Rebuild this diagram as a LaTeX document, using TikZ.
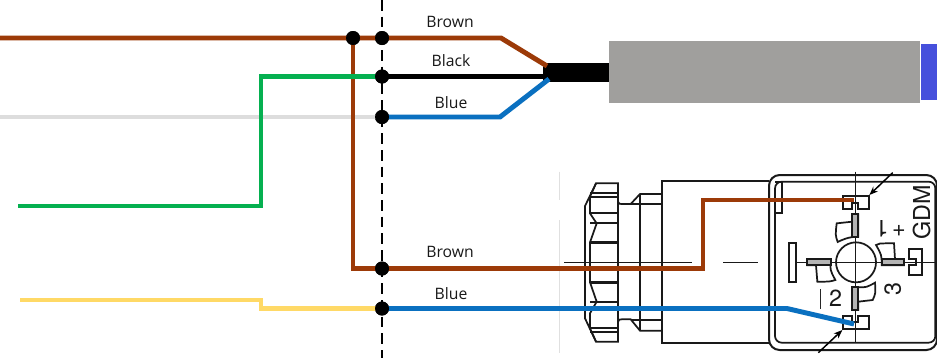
\documentclass[tikz,border=0pt]{standalone}
\usepackage{fontspec}
\setmainfont{Open Sans}
\newfontfamily\drawfont{TeX Gyre Heros}
\usetikzlibrary{arrows.meta}
\definecolor{wbrown}{HTML}{9C3A08}
\definecolor{wblue}{HTML}{0A70C0}
\definecolor{wgreen}{HTML}{05B050}
\definecolor{wgrey}{HTML}{DDDDDD}
\definecolor{wyellow}{HTML}{FFD966}
\definecolor{bodygrey}{HTML}{A09F9D}
\definecolor{capblue}{HTML}{4650DC}
\definecolor{pincol}{HTML}{B4B4B4}
\tikzset{
  wire/.style={line width=3.7pt,line join=miter},
  junction/.style={circle,fill=black,inner sep=0pt,minimum size=10.5pt},
  wirelabel/.style={font=\fontsize{11.8}{12}\selectfont,inner sep=0pt,text=black!90},
  part/.style={line width=1.3pt,draw=black!90,line join=miter},
  thinpart/.style={line width=1pt,draw=black!90},
  pinpart/.style={line width=1.3pt,draw=black!90,fill=pincol},
  marktext/.style={font=\drawfont\fontsize{17.5}{17.5}\selectfont,inner sep=0pt,text=black!90},
  leader/.style={-{Stealth[length=6.5pt,width=5pt]},line width=1.1pt},
}
\begin{document}
\begin{tikzpicture}[x=.75pt,y=-.75pt]
\useasboundingbox[fill=white] (0,0) rectangle (937,358);
% connector drawing, nut and body (coordinates of first crop)
\begin{scope}[shift={(540,160)},x=.25pt,y=-.25pt]
  \draw[part] (168,70)--(234,70)--(234,545)--(168,545)--(135,475)--(135,138)--cycle;
  \draw[part] (168,70)--(150,110)--(150,160)--(170,190)--(150,247)--(150,367)--(170,425)--(150,460)--(150,505)--(168,545);
  \foreach \yy in {100,110,160,188,425,505,515} \draw[part] (150,\yy)--(234,\yy);
  \draw[part,line width=1.9pt] (150,247)--(234,247) (150,367)--(234,367);
  \draw[part] (234,125)..controls (238,132)..(245,132)--(272,132)--(300,102)--(367,102);
  \draw[part] (272,132)--(367,132) (300,102)--(300,512);
  \draw[part] (234,485)..controls (238,478)..(245,478)--(272,478)--(300,512)--(367,512);
  \draw[part] (272,480)--(367,480);
  \draw[part] (660,62)--(367,62)--(367,548)--(660,548);
  \draw[thinpart] (72,307)--(455,307) (550,307)--(653,307);
  \draw[line width=.5pt,black!12] (58,35)--(58,120) (58,180)--(58,578);
\end{scope}
% connector drawing, head (coordinates of second crop)
\begin{scope}[shift={(750,160)},x=.25pt,y=-.25pt]
  \draw[part] (0,62)--(56,62) (0,548)--(56,548);
  \draw[part,line width=1.5pt,rounded corners=8pt] (57,45) rectangle (561,570);
  \draw[part,rounded corners=5pt] (75,65) rectangle (556,548);
  \draw[part] (75,65)--(95,65)--(95,158)--(75,158);
  \draw[thinpart] (316,35)--(316,545) (0,307)--(22,307) (118,307)--(561,307);
  \draw[part,fill=white] (118,248) rectangle (138,365);
  \draw[part] (278,108)--(356,108)--(356,148)--(325,148)--(325,130)--(305,130)--(305,148)--(278,148)--cycle;
  \draw[part] (278,467)--(305,467)--(305,485)--(325,485)--(325,467)--(356,467)--(356,506)--(278,506)--cycle;
  \draw[part] (478,268)--(515,268)--(515,346)--(478,346)--(478,316)--(497,316)--(497,298)--(478,298)--cycle;
  \draw[part] (260,190)--(307,185)--(307,163)--(325,163)--(325,230)..controls (295,230) and (275,240)..(263,246)..controls (256,225)..(260,190)--cycle;
  \draw[pinpart] (307,163) rectangle (325,230);
  \draw[part] (375,368)..controls (350,382)..(325,382)--(307,382)--(307,450)--(325,450)--(325,425)--(368,420)..controls (377,400)..(375,368)--cycle;
  \draw[pinpart] (307,382) rectangle (325,450);
  \draw[part] (378,255)..controls (385,250)..(432,250)--(435,298)--(462,298)--(462,316)--(395,316)..controls (395,285)..(378,255)--cycle;
  \draw[pinpart] (395,298) rectangle (462,316);
  \draw[part] (172,298)--(242,298)..controls (240,330)..(256,360)..controls (240,365)..(202,365)--(198,316)--(172,316)--cycle;
  \draw[pinpart] (172,298) rectangle (242,316);
  \node[part,draw,circle,inner sep=0pt,minimum size=30pt] (hub) at (318,307) {};
  \draw[thinpart] (316,247)--(316,367) (258,307)--(378,307);
  \draw[line width=1.2pt,black!85] (211,387)--(211,447);
  \node[marktext] (two) at (257,416) {2};
  \node[marktext,rotate=90] (three) at (428,386) {3};
  \node[marktext,rotate=180] (one) at (396,206) {1};
  \node[marktext] (plus) at (447,212) {+};
  \node[marktext,rotate=90] (gdm) at (515,156) {GDM};
  \coordinate (a1) at (428,38); \coordinate (a2) at (358,105);
  \coordinate (b1) at (205,578); \coordinate (b2) at (277,510);
  \draw[leader] (a1)--(a2);
  \draw[leader] (b1)--(b2);
\end{scope}
% sensor body
\node[fill=bodygrey,minimum width=233.25pt,minimum height=46.5pt,inner sep=0pt,anchor=north west] (sensor) at (609,41) {};
\node[fill=capblue,minimum width=12.75pt,minimum height=42pt,inner sep=0pt,anchor=west] (cap) at (sensor.east) {};
\node[fill=black,minimum width=49.5pt,minimum height=14.5pt,inner sep=0pt,anchor=east] (cable) at (sensor.west) {};
% junctions
\coordinate (dashtop) at (382,0); \coordinate (dashbot) at (382,358);
\draw[line width=1.5pt,dash pattern=on 8pt off 4.5pt] (dashtop)--(dashbot);
\coordinate (brownL) at (0,38); \coordinate (greyL) at (0,117);
\coordinate (greenL) at (18,206); \coordinate (yellowL) at (20,300);
\node[junction] (jb) at (353,38) {};
\node[junction] (j1) at (382,38) {};
\node[junction] (j2) at (382,76.5) {};
\node[junction] (j3) at (382,117) {};
\node[junction] (j4) at (382,268.5) {};
\node[junction] (j5) at (382,308.5) {};
\coordinate (cb) at (547,66); \coordinate (cbl) at (549,79); \coordinate (ck) at (546,76.5);
\coordinate (pin1) at (854,200); \coordinate (pin2) at (854,324);
\draw[wire,wgrey] (greyL)--(j3.center);
\draw[wire,wbrown] (jb.center)|-(j4.center);
\draw[wire,wbrown] (brownL)--(j1.center)--(501,38)--(cb);
\draw[wire,wgreen] (greenL)-|(261,76.5)--(j2.center);
\draw[wire,black] (j2.center)--(ck);
\draw[wire,wblue] (j3.center)--(500,117)--(cbl);
\draw[wire,wyellow] (yellowL)--(261,300)--(261,308.5)--(j5.center);
\draw[wire,wbrown] (j4.center)--(703,268.5)--(703,200)--(pin1);
\draw[wire,wblue] (j5.center)--(787,308.5)--(pin2);
\node[junction] at (jb) {};
\node[junction] at (j1) {};
\node[junction] at (j2) {};
\node[junction] at (j3) {};
\node[junction] at (j4) {};
\node[junction] at (j5) {};
% labels
\node[wirelabel] (l1) at (450,21.5) {Brown};
\node[wirelabel] (l2) at (451,60.5) {Black};
\node[wirelabel] (l3) at (451,102.5) {Blue};
\node[wirelabel] (l4) at (450,251.5) {Brown};
\node[wirelabel] (l5) at (451,293.5) {Blue};
\end{tikzpicture}
\end{document}
